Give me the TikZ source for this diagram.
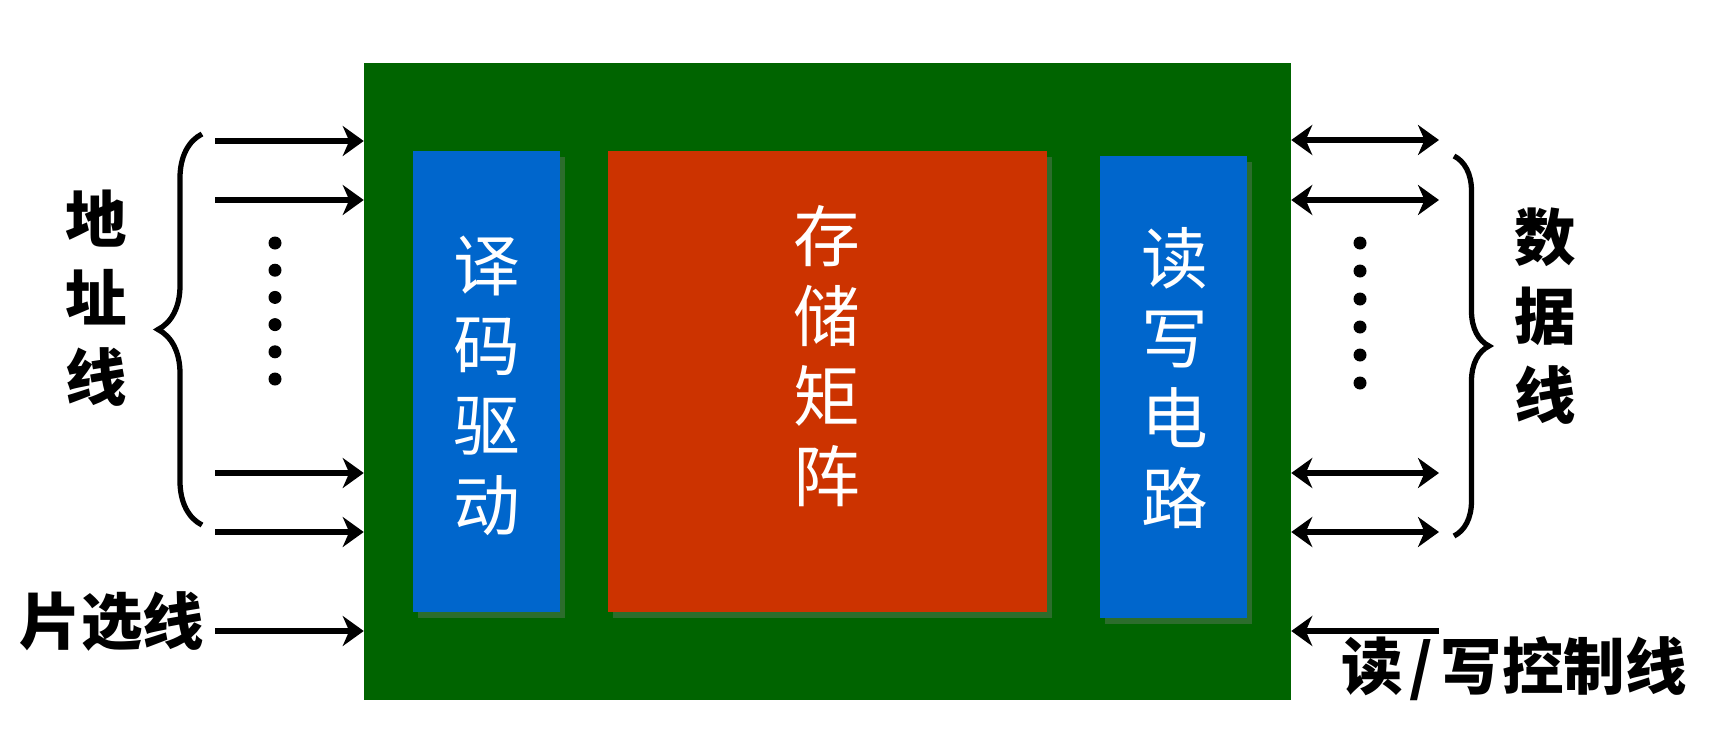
\documentclass[tikz,border=0pt]{standalone}
\usepackage{fontspec}
\newfontfamily\cjk{Noto Sans CJK SC}
\usetikzlibrary{arrows.meta,decorations.pathreplacing,shadows}

\begin{document}
\begin{tikzpicture}[x=0.02cm,y=-0.02cm,
  box/.style={inner sep=0pt,minimum width=2.94cm,minimum height=9.22cm,
    drop shadow={shadow xshift=0.1cm,shadow yshift=-0.12cm,opacity=0.35}},
  inlbl/.style={text=white,font=\cjk\fontsize{38}{45.5}\selectfont,align=center},
  outlbl/.style={font=\cjk\bfseries\fontsize{35}{45}\selectfont,align=center},
  tip/.tip={Stealth[length=0.42cm,width=0.6cm,inset=0.13cm]},
  wire/.style={line width=3.5pt,-tip},
  bus/.style={line width=3.5pt,tip-tip},
  curly/.style={line width=3pt,decorate}]
\definecolor{chipGreen}{HTML}{006400}
\definecolor{unitBlue}{HTML}{0066CC}
\definecolor{cellRed}{HTML}{CC3300}
\useasboundingbox (0,0) rectangle (1714,744);

\node[fill=chipGreen,inner sep=0pt,minimum width=18.54cm,minimum height=12.74cm] (chip) at (827.5,381.5) {};
\node[box,fill=unitBlue] (dec) at (486.5,381.5) {};
\node[box,fill=cellRed,minimum width=8.78cm] (mat) at (827.5,381.5) {};
\node[box,fill=unitBlue,minimum height=9.24cm] (rw) at (1173.5,387) {};
\node[inlbl] (declbl) at (487,386) {译\\码\\驱\\动};
\node[inlbl] (matlbl) at (827,356) {存\\储\\矩\\阵};
\node[inlbl] (rwlbl) at (1175,378) {读\\写\\电\\路};

\foreach \y [count=\i] in {141,200,473,532} {
  \coordinate (a\i) at (215,\y);
  \draw[wire] (a\i) -- (a\i -| chip.west);
}
\foreach \y [count=\i] in {140,200,473,532} {
  \coordinate (d\i) at (1439,\y);
  \draw[bus] (d\i) -- (d\i -| chip.east);
}
\foreach \k in {0,...,5} {
  \fill (275,{243+27.2*\k}) circle (0.13cm);
  \fill (1360,{243+28*\k}) circle (0.13cm);
}

\draw[curly,decoration={brace,amplitude=0.88cm}] (202,525) -- (202,134);
\draw[curly,decoration={brace,amplitude=0.7cm}] (1454,156) -- (1454,536);
\node[outlbl] (addr) at (96,298) {地\\址\\线};
\node[outlbl] (data) at (1545,316) {数\\据\\线};

\node[outlbl] (cs) at (112,621) {片选线};
\coordinate (cs0) at (215,631);
\draw[wire] (cs0) -- (cs0 -| chip.west);
\node[outlbl] (rwc) at (1514,669) {读\hspace{0.12em}/\hspace{0.12em}写控制线};
\coordinate (rw0) at (1439,631);
\draw[wire] (rw0) -- (rw0 -| chip.east);
\end{tikzpicture}
\end{document}
